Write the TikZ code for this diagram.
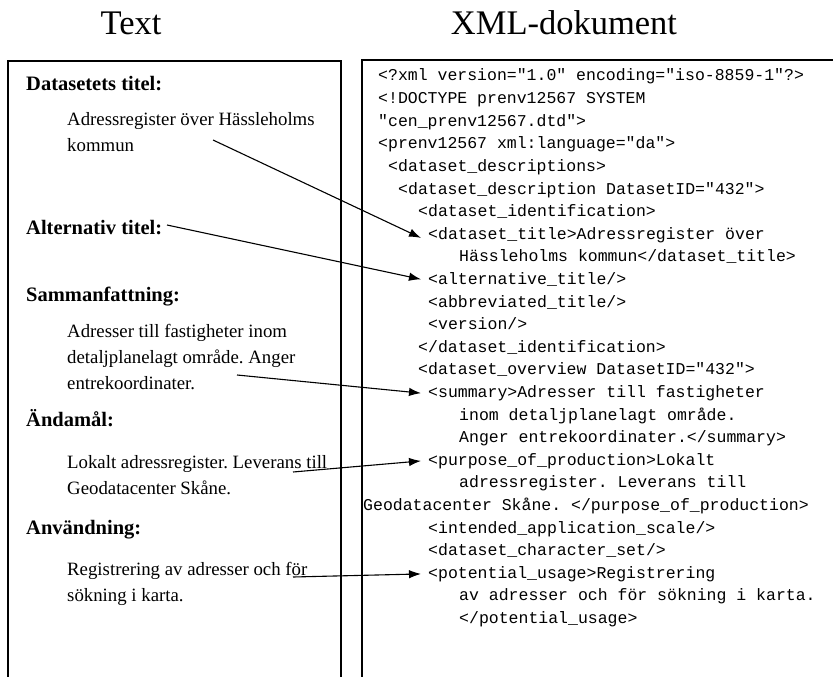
\documentclass[tikz,border=0pt]{standalone}
\usepackage{fontspec}
\setmainfont{Liberation Serif}
\newfontfamily\xmlfont{Liberation Mono}
\usetikzlibrary{arrows.meta}

\begin{document}
\frenchspacing
\begin{tikzpicture}[x=1bp,y=-1bp,
  frame/.style={line width=1.4bp},
  heading/.style={font=\fontsize{34.5bp}{38bp}\selectfont, anchor=center, inner sep=0},
  field/.style={font=\fontsize{20.5bp}{24bp}\selectfont\bfseries, anchor=base west, inner sep=0},
  value/.style={font=\fontsize{18.8bp}{22bp}\selectfont, anchor=base west, inner sep=0},
  xml/.style={font=\xmlfont\fontsize{16.5bp}{20bp}\selectfont, anchor=base west, inner sep=0},
  link/.style={line width=1.1bp, -{Latex[length=12bp,width=8.5bp]}}
]
\useasboundingbox (0,0) rectangle (833,677);

% column headings
\node[heading] (hText) at (131,23) {Text};
\node[heading] (hXml) at (564,23) {XML-dokument};

% column frames, open at the bottom
\draw[frame] (8,677) -- (8,61) -- (341,61) -- (341,677);
\draw[frame] (362,677) -- (362,60) -- (833,60);

% left column: fields and their values
\node[field] (f1) at (26,91) {Datasetets titel:};
\node[value] (v1a) at (67,126) {Adressregister över Hässleholms};
\node[value] (v1b) at (67,152) {kommun};
\node[field] (f2) at (26,234) {Alternativ titel:};
\node[field] (f3) at (26,301) {Sammanfattning:};
\node[value] (v3a) at (67,337) {Adresser till fastigheter inom};
\node[value] (v3b) at (67,363) {detaljplanelagt område. Anger};
\node[value] (v3c) at (67,389) {entrekoordinater.};
\node[field] (f4) at (26,426) {Ändamål:};
\node[value] (v4a) at (67,468) {Lokalt adressregister. Leverans till};
\node[value] (v4b) at (67,494) {Geodatacenter Skåne.};
\node[field] (f5) at (26,534) {Användning:};
\node[value] (v5a) at (67,575) {Registrering av adresser och för};
\node[value] (v5b) at (67,601) {sökning i karta.};

% right column: XML listing
\node[xml] (l1)  at (378,81)    {<?xml version="1.0" encoding="iso-8859-1"?>};
\node[xml] (l2)  at (378,103.6) {<!DOCTYPE prenv12567 SYSTEM};
\node[xml] (l3)  at (378,126.2) {"cen\_prenv12567.dtd">};
\node[xml] (l4)  at (378,148.8) {<prenv12567 xml:language="da">};
\node[xml] (l5)  at (388,171.4) {<dataset\_descriptions>};
\node[xml] (l6)  at (398,194)   {<dataset\_description DatasetID="432">};
\node[xml] (l7)  at (418,216.6) {<dataset\_identification>};
\node[xml] (l8)  at (428,239.2) {<dataset\_title>Adressregister över};
\node[xml] (l9)  at (459,261.8) {Hässleholms kommun</dataset\_title>};
\node[xml] (l10) at (428,284.4) {<alternative\_title/>};
\node[xml] (l11) at (428,307)   {<abbreviated\_title/>};
\node[xml] (l12) at (428,329.6) {<version/>};
\node[xml] (l13) at (418,352.2) {</dataset\_identification>};
\node[xml] (l14) at (418,374.8) {<dataset\_overview DatasetID="432">};
\node[xml] (l15) at (428,397.4) {<summary>Adresser till fastigheter};
\node[xml] (l16) at (459,420)   {inom detaljplanelagt område.};
\node[xml] (l17) at (459,442.6) {Anger entrekoordinater.</summary>};
\node[xml] (l18) at (428,465.2) {<purpose\_of\_production>Lokalt};
\node[xml] (l19) at (459,487.8) {adressregister. Leverans till};
\node[xml] (l20) at (363,510.4) {Geodatacenter Skåne. </purpose\_of\_production>};
\node[xml] (l21) at (428,533)   {<intended\_application\_scale/>};
\node[xml] (l22) at (428,555.6) {<dataset\_character\_set/>};
\node[xml] (l23) at (428,578.2) {<potential\_usage>Registrering};
\node[xml] (l24) at (459,600.8) {av adresser och för sökning i karta.};
\node[xml] (l25) at (459,623.4) {</potential\_usage>};

% arrow starting points inside the left column
\coordinate (s1) at (213,140);
\coordinate (s2) at (167,225);
\coordinate (s3) at (237,375);
\coordinate (s4) at (293,472);
\coordinate (s5) at (293,577);

% links from the values to their XML elements
\draw[link] (s1) -- ([xshift=-7bp,yshift=-3bp]l8.west);
\draw[link] (s2) -- ([xshift=-7bp]l10.west);
\draw[link] (s3) -- ([xshift=-7bp]l15.west);
\draw[link] (s4) -- ([xshift=-7bp]l18.west);
\draw[link] (s5) -- ([xshift=-7bp]l23.west);
\end{tikzpicture}
\end{document}
